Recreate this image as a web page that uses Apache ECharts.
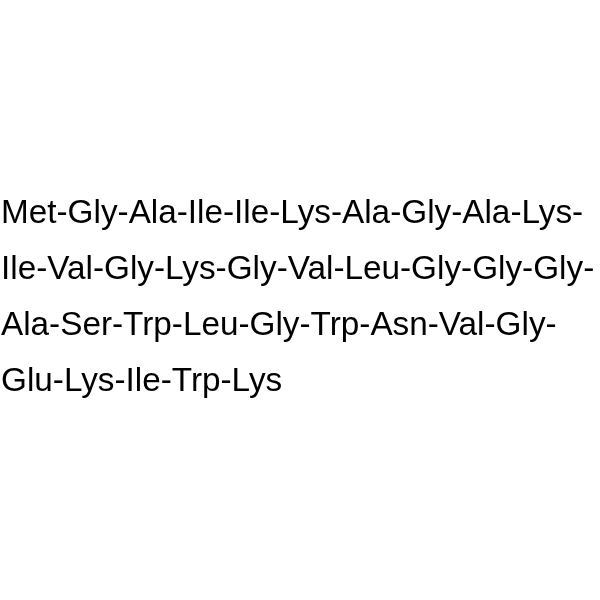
<!DOCTYPE html>
<html>
<head>
<meta charset="utf-8">
<script src="https://cdn.jsdelivr.net/npm/echarts@6/dist/echarts.min.js"></script>
<style>
html,body{margin:0;padding:0;background:#fff;}
#c{width:600px;height:600px;}
</style>
</head>
<body>
<div id="c"></div>
<script>
// Peptide sequence, as wrapped into lines in the reference
const line1 = ['Met','Gly','Ala','Ile','Ile','Lys','Ala','Gly','Ala','Lys'];
const line2 = ['Ile','Val','Gly','Lys','Gly','Val','Leu','Gly','Gly','Gly'];
const line3 = ['Ala','Ser','Trp','Leu','Gly','Trp','Asn','Val','Gly'];
const line4 = ['Glu','Lys','Ile','Trp','Lys'];
const lines = [line1, line2, line3, line4];

const chart = echarts.init(document.getElementById('c'), null, {renderer: 'canvas'});
const FS = 33.3, X0 = 1, Y0 = 213.5, STEP = 56;
const elements = lines.map(function (res, i) {
  const last = i === lines.length - 1;
  return {
    type: 'text',
    x: X0,
    y: Y0 + STEP * i,
    style: {
      text: res.join('-') + (last ? '' : '-'),
      fontFamily: '"Liberation Sans", Arial, sans-serif',
      fontSize: FS,
      fill: '#000',
      align: 'left',
      verticalAlign: 'middle'
    }
  };
});
chart.setOption({
  backgroundColor: '#ffffff',
  animation: false,
  graphic: { elements: elements }
});
</script>
</body>
</html>
